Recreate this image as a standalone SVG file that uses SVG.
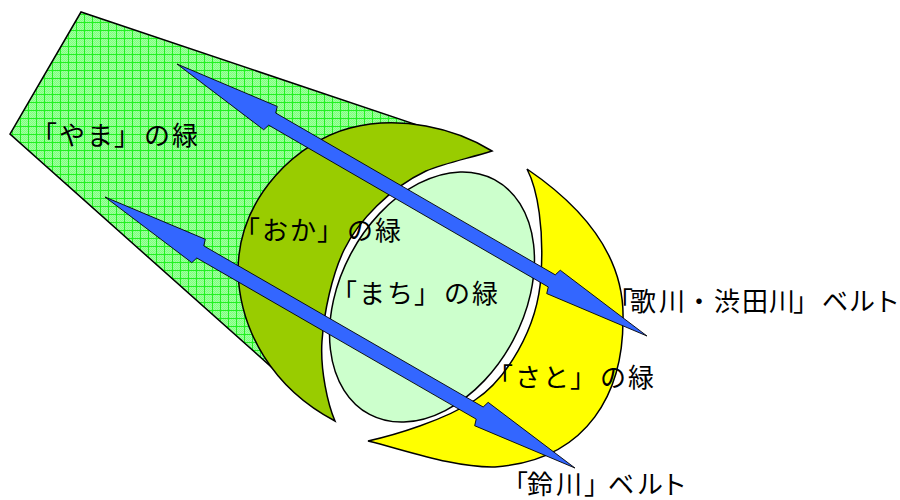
<svg xmlns="http://www.w3.org/2000/svg" width="900" height="500" viewBox="0 0 900 500">
<defs>
<pattern id="chk" width="2" height="2" patternUnits="userSpaceOnUse">
<rect width="2" height="2" fill="#A0FFA0"/>
<rect width="1" height="1" fill="#7CFF7C"/>
<rect x="1" y="1" width="1" height="1" fill="#7CFF7C"/>
</pattern>
<pattern id="grid" x="4" y="6" width="8" height="8" patternUnits="userSpaceOnUse">
<rect width="8" height="8" fill="url(#chk)"/>
<rect width="8" height="1" fill="#22F022"/>
<rect width="1" height="8" fill="#22F022"/>
</pattern>
<style>
.ol{stroke:#000;stroke-width:1.5;stroke-linejoin:miter}
.arrow{fill:#3366FF;stroke:#000;stroke-width:0.8}
.lbl{font-family:"Noto Sans CJK JP","Noto Sans CJK SC",sans-serif;font-size:26px;fill:#000}
</style>
</defs>
<g id="yama">
<polygon class="ol" fill="url(#grid)" points="81,12 10,134 283,377.4 270,300 300,200 425,127.6"/>
</g>
<g id="oka">
<path class="ol" fill="#99CC00" d="M492,151 C455,128 400,115 350,128 C300,141 238,195 238,272 C240,330 272,388 335,421 C328,405 320,370 322,341 C324,312 332,275 344,250 C358,221 390,188 426,171 C445,163 470,158 492,151 Z"/>
</g>
<g id="sato">
<path class="ol" fill="#FFFF00" d="M527,169 C580,205 625,255 623,320 C623,390 590,460 495,467 C455,468 405,450 368,441 C395,435 445,420 475,400 C505,380 538,330 541,275 C544,230 538,190 527,169 Z"/>
</g>
<g id="machi">
<ellipse class="ol" fill="#CCFFCC" cx="432" cy="297" rx="92" ry="133" transform="rotate(28 432 297)"/>
</g>
<g id="connectors">
<polygon class="arrow" transform="translate(177,64) rotate(30.06)" points="0,0 108,-13.5 110,-7 433,-7 435,-13.5 543,0 435,13.5 433,7 110,7 108,13.5"/>
<polygon class="arrow" transform="translate(105,197) rotate(29.97)" points="0,0 108,-13.5 110,-7 432.5,-7 434.5,-13.5 542.5,0 434.5,13.5 432.5,7 110,7 108,13.5"/>
</g>
<g id="labels">
<text class="lbl" x="31 59 87 114 144 172" y="145">「やま」の緑</text>
<text class="lbl" x="234 262 290 317 347 375" y="240">「おか」の緑</text>
<text class="lbl" x="331 359 387 414 444 472" y="303">「まち」の緑</text>
<text class="lbl" x="487 515 543 570 600 628" y="387">「さと」の緑</text>
<text class="lbl" x="607 630 659 686 714 742 769 793 822 849 874" y="311">「歌川・渋田川」ベルト</text>
<text class="lbl" x="502 527 556 584 608 637 661" y="494">「鈴川」ベルト</text>
</g>
</svg>
